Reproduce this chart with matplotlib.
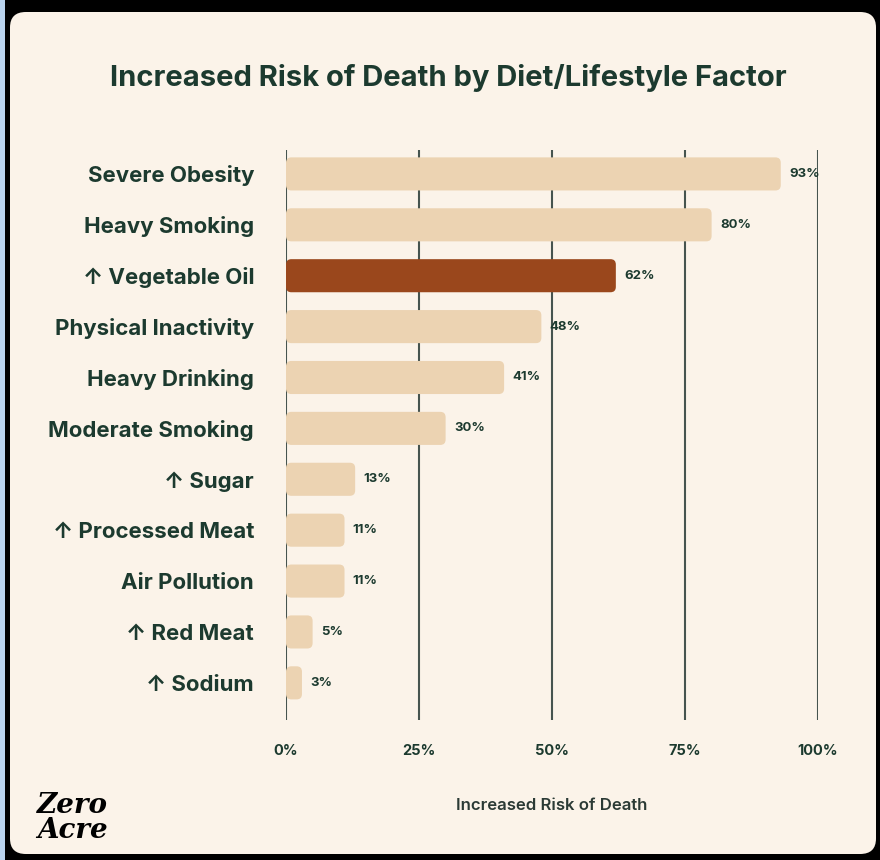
import matplotlib.pyplot as plt
from matplotlib.patches import FancyBboxPatch, Rectangle

factors = ['Severe Obesity', 'Heavy Smoking', '\u2191 Vegetable Oil', 'Physical Inactivity',
           'Heavy Drinking', 'Moderate Smoking', '\u2191 Sugar', '\u2191 Processed Meat',
           'Air Pollution', '\u2191 Red Meat', '\u2191 Sodium']
risk = [93, 80, 62, 48, 41, 30, 13, 11, 11, 5, 3]
highlight = '\u2191 Vegetable Oil'
ticks = [0, 25, 50, 75, 100]
tick_labels = ['0%', '25%', '50%', '75%', '100%']

CREAM = '#fbf3e9'
TAN = '#ecd3b2'
BROWN = '#9a471c'
GREEN = '#1c3a2f'
GRID = '#46544f'
FONT = ['Inter', 'DejaVu Sans']

fig = plt.figure(figsize=(8.8, 8.6), dpi=100)
fig.patch.set_facecolor('black')
fig.patches.append(Rectangle((0, 0), 5 / 880, 1, transform=fig.transFigure,
                             facecolor='#b9d3ee', edgecolor='none', zorder=0))
fig.patches.append(FancyBboxPatch((10 / 880, 6 / 860), 866 / 880, 842 / 860,
                                  boxstyle='round,pad=0,rounding_size=0.018',
                                  transform=fig.transFigure, facecolor=CREAM,
                                  edgecolor='none', zorder=0))

ax = fig.add_axes([286 / 880, 140 / 860, 532 / 880, 570 / 860])
ax.set_facecolor('none')
ax.set_zorder(2)

ypos = list(range(len(factors)))
bars = ax.barh(ypos, risk, height=0.65, color='none')
# swap bars for rounded ones
for b, name, v in zip(bars, factors, risk):
    c = BROWN if name == highlight else TAN
    p = FancyBboxPatch((b.get_x(), b.get_y()), b.get_width(), b.get_height(),
                       boxstyle='round,pad=0,rounding_size=1.0',
                       mutation_aspect=0.105, facecolor=c, edgecolor='none', zorder=3)
    ax.add_patch(p)
    ax.annotate(f'{v}%', (v, b.get_y() + b.get_height() / 2), xytext=(6, 0),
                textcoords='offset points', va='center', ha='left',
                fontsize=9.5, fontweight='bold', color=GREEN, family=FONT, zorder=4)

for t in ticks:
    ax.axvline(t, color=GRID, lw=1.5, zorder=1)

ax.set_xlim(0, 100)
ax.set_ylim(10.73, -0.47)
ax.set_yticks(ypos)
ax.set_yticklabels(factors, fontsize=16, fontweight='bold', color=GREEN, family=FONT)
ax.set_xticks(ticks)
ax.set_xticklabels(tick_labels, fontsize=10.5, fontweight='bold', color=GREEN, family=FONT)
ax.tick_params(axis='y', length=0, pad=23)
ax.tick_params(axis='x', length=0, pad=17)
for s in ax.spines.values():
    s.set_visible(False)

fig.text(448 / 880, 1 - 78 / 860, 'Increased Risk of Death by Diet/Lifestyle Factor',
         ha='center', va='center', fontsize=21, fontweight='bold', color=GREEN,
         family=FONT)
fig.text(552 / 880, 1 - 805 / 860, 'Increased Risk of Death', ha='center', va='center',
         fontsize=12, fontweight='semibold', color='#2b3a35', family=FONT)
fig.text(72 / 880, 1 - 818 / 860, 'Zero\nAcre', ha='center', va='center', fontsize=20,
         fontweight='heavy', style='italic', color='black', family='DejaVu Serif',
         linespacing=0.9)

fig.savefig('out.png', dpi=100, facecolor=fig.get_facecolor())
